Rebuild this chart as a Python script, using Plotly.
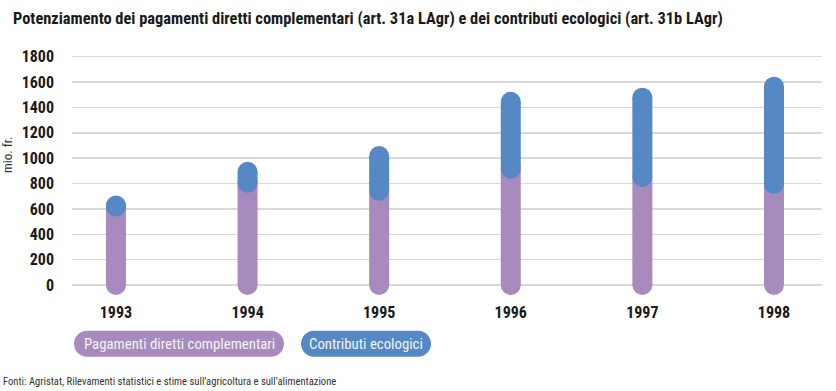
import plotly.graph_objects as go

years = ["1993", "1994", "1995", "1996", "1997", "1998"]
pagamenti = [618, 807, 744, 917, 852, 796]
ecologici = [8, 86, 273, 528, 625, 768]
y_ticks = [0, 200, 400, 600, 800, 1000, 1200, 1400, 1600, 1800]

PURPLE = "#a78bbe"
BLUE = "#5588c4"
FONT = "Liberation Sans Narrow, Roboto Condensed, DejaVu Sans Condensed, Roboto, sans-serif"

OFF = 0  # page body margin removed via post_script
W, H = 836 - OFF, 391 - OFF
L, R, T, B = 72 - OFF, 14, 50 - OFF, 91
PW, PH = W - L - R, H - T - B

def px(x):
    return (x - OFF - L) / PW

def py(y):
    return (H - B - (y - OFF)) / PH

xs = list(range(len(years)))
totals = [a + b for a, b in zip(pagamenti, ecologici)]
bw = 0.152

fig = go.Figure()
fig.add_trace(go.Bar(x=xs, y=pagamenti, width=bw, marker=dict(color=PURPLE, line=dict(width=0)),
                     hoverinfo="skip", showlegend=False))
fig.add_trace(go.Bar(x=xs, y=ecologici, base=pagamenti, width=bw, marker=dict(color=BLUE, line=dict(width=0)),
                     hoverinfo="skip", showlegend=False))
fig.add_trace(go.Scatter(x=xs, y=[0] * len(xs), mode="markers",
                         marker=dict(size=20, color=PURPLE, line=dict(width=0)),
                         hoverinfo="skip", showlegend=False, cliponaxis=False))
fig.add_trace(go.Scatter(x=xs, y=pagamenti, mode="markers",
                         marker=dict(size=20, color=BLUE, line=dict(width=0)),
                         hoverinfo="skip", showlegend=False, cliponaxis=False))
fig.add_trace(go.Scatter(x=xs, y=totals, mode="markers",
                         marker=dict(size=20, color=BLUE, line=dict(width=0)),
                         hoverinfo="skip", showlegend=False, cliponaxis=False))

def pill_path(w, r):
    k = 0.5523 * r
    a = w - r
    return (f"M {-a},{-r} L {a},{-r} C {a + k},{-r} {w},{-k} {w},0 "
            f"C {w},{k} {a + k},{r} {a},{r} L {-a},{r} "
            f"C {-a - k},{r} {-w},{k} {-w},0 C {-w},{-k} {-a - k},{-r} {-a},{-r} Z")

legend_items = [("Pagamenti diretti complementari", PURPLE, 179, 105),
                ("Contributi ecologici", BLUE, 366, 65)]
shapes = []
annotations = []
for label, col, cx, hw in legend_items:
    shapes.append(dict(type="path", xref="paper", yref="paper", xsizemode="pixel", ysizemode="pixel",
                       xanchor=px(cx), yanchor=py(343.7), path=pill_path(hw, 13),
                       fillcolor=col, line=dict(width=0), layer="above"))
    annotations.append(dict(text=label, xref="paper", yref="paper", x=px(cx), y=py(343.7),
                            xanchor="center", yanchor="middle", showarrow=False,
                            font=dict(family=FONT, size=14.8, color="#f4f4f4")))

annotations.append(dict(text="<b>Potenziamento dei pagamenti diretti complementari (art. 31a LAgr) e dei contributi ecologici (art. 31b LAgr)</b>",
                        xref="paper", yref="paper", x=px(11), y=py(18), xanchor="left", yanchor="middle",
                        showarrow=False, font=dict(family=FONT, size=16.4, color="#1a1a1a")))
annotations.append(dict(text="mio. fr.", xref="paper", yref="paper", x=px(7), y=py(155),
                        xanchor="center", yanchor="middle", textangle=-90, showarrow=False,
                        font=dict(family=FONT, size=13, color="#333333")))
annotations.append(dict(text="Fonti: Agristat, Rilevamenti statistici e stime sull\u2019agricoltura e sull\u2019alimentazione",
                        xref="paper", yref="paper", x=px(1), y=py(381), xanchor="left", yanchor="middle",
                        showarrow=False, font=dict(family=FONT, size=10.6, color="#333333")))

fig.update_layout(
    width=W, height=H,
    margin=dict(l=L, r=R, t=T, b=B, pad=0),
    paper_bgcolor="white", plot_bgcolor="white",
    barmode="overlay", showlegend=False,
    shapes=shapes, annotations=annotations,
    xaxis=dict(range=[-0.334, 5.365], tickvals=xs, ticktext=["<b>%s</b>" % y for y in years],
               showgrid=False, zeroline=False, showline=False, ticks="",
               tickfont=dict(family=FONT, size=16, color="#1a1a1a"), ticklabelstandoff=1),
    yaxis=dict(range=[-118.3, 1852.8], tickvals=y_ticks, ticktext=["<b>%d</b>" % v for v in y_ticks],
               showgrid=True, gridcolor="#d9d9d9", gridwidth=1.5, zeroline=False, showline=False, ticks="",
               tickfont=dict(family=FONT, size=16, color="#1a1a1a"), ticklabelstandoff=17),
    hovermode=False,
)

fig.write_html("out.html", config={"displayModeBar": False, "staticPlot": True},
               post_script="document.body.style.margin='0';document.body.style.overflow='hidden';")
